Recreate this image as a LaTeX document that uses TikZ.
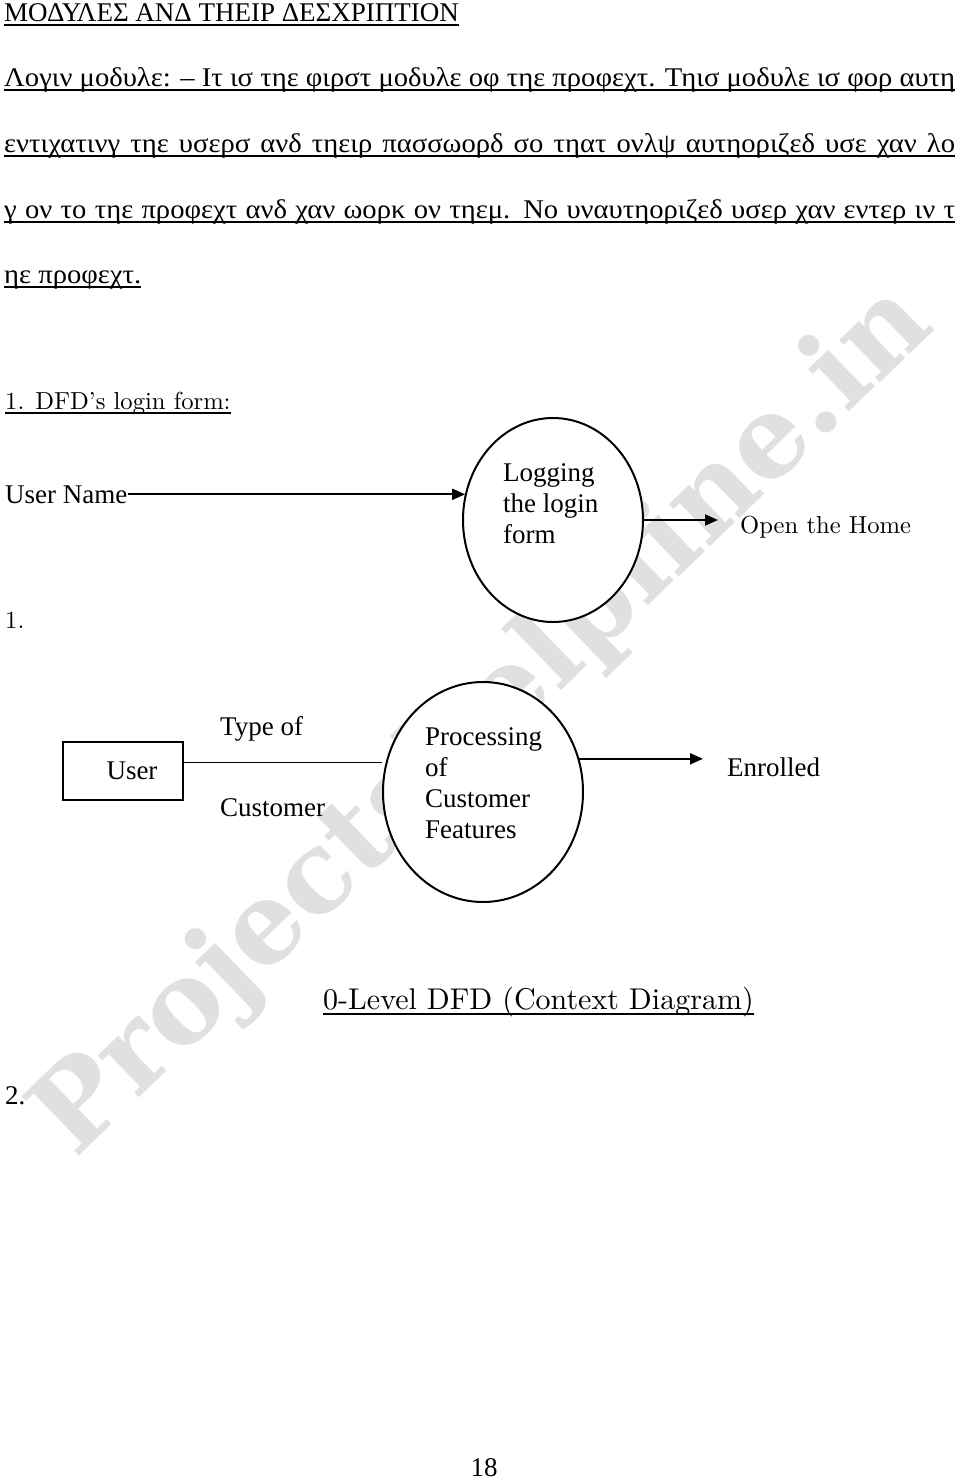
\documentclass[tikz,border=0pt]{standalone}
\usepackage{fontspec}
\setmainfont{Liberation Serif}
\newfontfamily\griego[FakeStretch=1.06]{Liberation Serif}
\newfontfamily\viejo{lmroman10-regular.otf}
\newfontfamily\sellofont{DejaVu Serif}
\newcommand{\renglon}[1]{\hbox to 951pt{#1}}
\usetikzlibrary{arrows.meta, positioning, calc, shapes.geometric}

\begin{document}
\begin{tikzpicture}[x=1pt, y=-1pt,
                linea/.style={
                    anchor=base west,
                    inner sep=0pt,
                    font=\fontsize{27}{31}\selectfont
                },
                parrafo/.style={
                    linea,
                    font=\griego\fontsize{27}{31}\selectfont
                },
                titulo/.style={
                    anchor=base west,
                    inner sep=0pt,
                    font=\viejo\fontsize{24.6}{30}\selectfont
                },
                raya/.style={line width=2pt},
                burbuja/.style={
                    ellipse,
                    draw,
                    line width=2pt,
                    fill=white,
                    inner sep=0pt
                },
                caja/.style={
                    rectangle,
                    draw,
                    line width=2.5pt,
                    minimum width=120pt,
                    minimum height=58pt,
                    font=\fontsize{27}{31}\selectfont
                },
                flujo/.style={line width=2pt, -{Triangle[length=13pt, width=11pt]}},
                fina/.style={line width=1pt}
            ]
                \useasboundingbox (0,0) rectangle (960,1481);
                \fill[white] (0,0) rectangle (960,1481);
                % marca de agua
                \node[rotate=44, anchor=base west, inner sep=0pt, text=black!12,
                      font=\sellofont\bfseries\fontsize{113}{113}\selectfont] (sello) at (75,1160) {Projectshelpline.in};

                % texto de cabecera
                \node[linea] (t1) at (4,21) {ΜΟΔΥΛΕΣ ΑΝΔ ΤΗΕΙΡ ΔΕΣΧΡΙΠΤΙΟΝ};
                \node[parrafo] (t2) at (4,86) {\renglon{Λογιν μοδυλε: – Ιτ ισ τηε φιρστ μοδυλε οφ τηε προφεχτ. Τηισ μοδυλε ισ φορ αυτη}};
                \node[parrafo] (t3) at (4,152) {\renglon{εντιχατινγ τηε υσερσ ανδ τηειρ πασσωορδ σο τηατ ονλψ αυτηοριζεδ υσε χαν λο}};
                \node[parrafo] (t4) at (4,218) {\renglon{γ ον το τηε προφεχτ ανδ χαν ωορκ ον τηεμ. Νο υναυτηοριζεδ υσερ χαν εντερ ιν τ}};
                \node[parrafo] (t5) at (4,283) {ηε προφεχτ.};
                \foreach \t in {t1,t2,t3,t4,t5}
                    \draw[raya] ([yshift=-4pt]\t.base west) -- ([yshift=-4pt]\t.base east);

                % DFD del login
                \node[titulo] (dfd) at (5,409) {1. DFD’s login form:};
                \draw[raya] ([yshift=-4pt]dfd.base west) -- ([yshift=-4pt]dfd.base east);
                \node[burbuja, minimum width=180pt, minimum height=204pt] (login) at (553,520) {};
                \node[linea, anchor=north west, align=left] (logintxt) at (503,463) {Logging\\the login\\form};
                \node[linea] (uname) at (5,503) {User Name};
                \node[titulo] (home) at (740,533) {Open the Home};
                \draw[flujo] (uname.east) -- (uname.east -| login.163);
                \draw[flujo, shorten >=22pt] (login.east) -- (login.east -| home.west);
                \node[titulo] (uno) at (5,628) {1.};

                % diagrama de contexto
                \node[caja] (usuario) at (123,771) {\hspace*{18pt}User};
                \node[burbuja, minimum width=200pt, minimum height=220pt] (proc) at (483,792) {};
                \node[linea, anchor=north west, align=left] (proctxt) at (425,727) {Processing\\of\\Customer\\Features};
                \node[linea] (tipo) at (220,735) {Type of};
                \node[linea] (cliente) at (220,816) {Customer};
                \node[linea] (enr) at (727,776) {Enrolled};
                \draw[fina] ([yshift=9pt]usuario.east) -- ([yshift=9pt]usuario.east -| proc.west);
                \draw[flujo, shorten >=24pt] (proc.19) -- (proc.19 -| enr.west);

                \node[titulo, font=\viejo\fontsize{30}{36}\selectfont] (nivel) at (323,1009) {0-Level DFD (Context Diagram)};
                \draw[raya] ([yshift=-5pt]nivel.base west) -- ([yshift=-5pt]nivel.base east);
                \node[linea] (dos) at (5,1104) {2.};
                \node[linea, anchor=base] (pag) at (484,1476) {18};
            \end{tikzpicture}
\end{document}
